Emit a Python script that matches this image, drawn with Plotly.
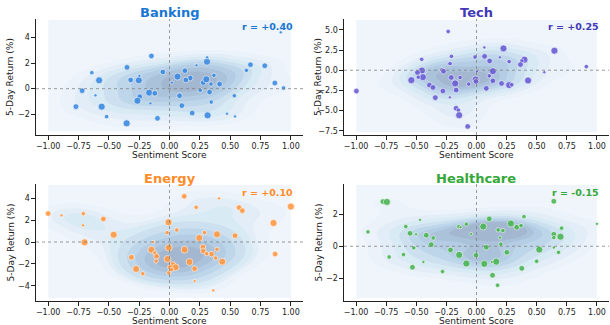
import numpy as np
import plotly.graph_objects as go

# ---------------- data ----------------
sectors = ["Banking", "Tech", "Energy", "Healthcare"]
r_labels = ["r = +0.40", "r = +0.25", "r = +0.10", "r = -0.15"]

banking_sentiment = [0.917, -0.149, 0.309, 0.31, -0.35, -0.64, -0.055, 0.223, 0.127, 0.667, 0.785, 0.634,
                     -0.58, -0.32, -0.253, -0.248, 0.066, 0.171, 0.135, 0.278, 0.303, 0.342, 0.366, 0.413,
                     0.868, 0.94, 0.02, -0.72, -0.61, -0.168, -0.121, 0.253, 0.33, -0.245, -0.264, 0.083,
                     0.534, 0.344, -0.771, -0.559, -0.157, 0.102, -0.518, -0.099, 0.187, 0.314, 0.474, 0.54, -0.353]
banking_return = [4.39, 2.55, 2.10, 2.44, 1.66, 1.25, 1.30, 1.82, 1.40, 1.87, 1.79, 1.43,
                  0.65, 0.68, 0.65, 0.99, 0.94, 0.83, 0.68, 0.47, 0.73, 0.36, 1.04, 0.36,
                  0.44, 0.05, 0.47, -0.16, -0.52, -0.31, -0.36, -0.13, -0.26, -0.62, -0.94, -0.55,
                  -0.55, -1.04, -1.40, -1.40, -1.14, -1.32, -2.18, -2.31, -1.90, -2.08, -1.95, -2.16, -2.70]
banking_volume = [1, 3, 4, 1, 3, 2, 3, 1, 3, 3, 3, 2,
                  4, 3, 4, 1, 4, 3, 3, 3, 4, 2, 2, 3,
                  3, 2, 1, 3, 1, 4, 3, 2, 3, 3, 4, 3,
                  2, 2, 3, 4, 1, 3, 2, 3, 3, 4, 1, 1, 4]

tech_sentiment = [-0.235, -0.455, -0.208, -0.232, -0.219, -0.012, 0.067, 0.065, 0.109, 0.194, 0.224, 0.271,
                  0.647, 0.398, 0.376, 0.365, 0.912, 0.563, -0.453, -0.49, -0.445, -0.483, -0.541, -0.287,
                  -0.274, -0.21, -0.136, -0.177, -0.169, -0.279, -0.391, -0.361, -0.342, -0.221, -0.065, -0.007,
                  -0.004, 0.004, 0.081, 0.106, 0.136, 0.136, 0.208, 0.271, 0.293, 0.428, -0.997, -0.169,
                  -0.15, -0.144, -0.073]
tech_return = [4.80, 1.35, 1.72, 0.78, 0.82, 1.64, 1.72, 2.83, 1.15, 1.60, 2.70, 1.07,
               2.42, 1.31, 1.15, 0.70, 0.45, -0.25, -0.04, -0.29, -0.86, -0.86, -1.23, 0.08,
               -0.12, -0.90, -0.90, -1.64, -2.46, -2.58, -1.84, -2.13, -3.40, -3.36, -1.72, -1.15,
               -1.39, -0.16, -2.25, -0.70, -0.12, -1.31, -1.64, -1.84, -1.80, -1.27, -2.58, -4.71,
               -4.96, -5.57, -6.97]
tech_volume = [2, 2, 2, 1, 2, 2, 3, 1, 3, 1, 4, 2,
               4, 4, 2, 3, 2, 1, 4, 3, 4, 2, 4, 2,
               3, 3, 2, 4, 3, 3, 3, 3, 3, 1, 2, 4,
               3, 1, 3, 2, 4, 3, 3, 4, 2, 4, 3, 3,
               2, 4, 3]

energy_sentiment = [-1.0, -0.89, -0.71, -0.713, -0.545, -0.46, -0.70, 0.121, 0.408, 0.22, 0.573, 0.60,
                    1.0, 0.857, 0.87, -0.008, -0.02, 0.06, 0.245, 0.391, 0.54, 0.289, -0.006, -0.135,
                    -0.149, -0.121, -0.107, -0.11, -0.314, -0.017, 0.124, 0.275, 0.278, 0.306, 0.347, 0.391,
                    0.38, 0.435, 0.165, 0.028, 0.05, 0.006, 0.017, -0.006, 0.207, -0.275, -0.22, 0.207, 0.361]
energy_return = [2.60, 2.44, 2.60, 1.53, 2.11, 0.67, -0.03, 4.18, 4.00, 3.18, 3.15, 2.87,
                 3.24, 1.74, -1.10, 1.80, 0.86, 1.10, 0.37, 0.70, 0.58, 0.86, -0.52, 0.00,
                 -0.70, -1.00, -1.31, -1.74, -1.40, -1.56, -0.70, -0.46, -0.82, -1.07, -1.10, -0.67,
                 -1.47, -1.80, -1.83, -2.05, -2.32, -2.32, -2.53, -2.84, -2.44, -2.47, -2.90, -3.57, -4.43]
energy_volume = [3, 1, 2, 1, 3, 4, 4, 3, 1, 2, 3, 3,
                 4, 4, 3, 4, 2, 2, 4, 4, 3, 2, 4, 1,
                 4, 2, 3, 2, 3, 4, 4, 3, 3, 2, 3, 2,
                 2, 4, 4, 3, 4, 3, 2, 2, 3, 4, 2, 1, 1]

health_sentiment = [-0.777, -0.744, 0.642, -0.901, -0.587, -0.469, -0.552, -0.502, -0.417, -0.359, -0.376, -0.521,
                    -0.606, -0.725, -0.532, -0.441, -0.282, -0.216, -0.147, -0.133, -0.084, -0.045, -0.144, -0.084,
                    -0.004, 0.056, 0.106, 0.18, 0.219, 0.285, 0.334, 0.37, 0.194, 0.202, 0.081, 0.065,
                    0.128, 0.164, 0.252, 0.133, 0.175, 0.376, 0.394, 0.521, 0.499, 0.642, 0.642, 0.697,
                    0.706, 0.642, 0.681, 1.0]
health_return = [2.79, 2.77, 2.81, 0.90, 1.23, 1.65, 0.81, 0.75, 0.69, 0.52, 0.10, -0.10,
                 -0.52, -0.67, -1.31, -0.98, -1.58, -0.23, 1.23, 1.19, 1.38, 0.77, -0.54, -1.08,
                 -0.56, 1.23, 1.71, 1.02, 0.98, 1.42, 1.19, 1.29, 0.54, 0.13, -0.06, -1.10,
                 -0.98, -0.96, -0.38, -1.81, -2.44, -1.38, 1.85, -0.21, -0.94, 0.75, 0.54, 0.60,
                 1.13, -0.08, -0.38, 1.40]
health_volume = [3, 4, 3, 2, 2, 1, 3, 1, 3, 2, 3, 2,
                 2, 2, 3, 1, 2, 3, 2, 1, 2, 1, 4, 4,
                 3, 4, 3, 2, 2, 4, 3, 2, 1, 2, 3, 4,
                 1, 4, 3, 3, 2, 3, 2, 4, 2, 3, 2, 4,
                 2, 1, 2, 1]

sentiments = [banking_sentiment, tech_sentiment, energy_sentiment, health_sentiment]
returns = [banking_return, tech_return, energy_return, health_return]
volumes = [banking_volume, tech_volume, energy_volume, health_volume]

# ---------------- styling ----------------
title_colors = ["#1976D2", "#4338B8", "#FF8C2A", "#35A83A"]
point_colors = ["#3D8BE0", "#6A5ED6", "#FF9A45", "#4CB556"]
size_map = {1: 3.2, 2: 4.4, 3: 5.6, 4: 7.0}
FONT = "DejaVu Sans"
W, H = 610, 325
density_scale = [[0.0, "#d8e7f6"], [0.125, "#cddff2"], [0.25, "#b6d2ea"], [0.375, "#9ecae1"],
                 [0.5, "#7fb2d8"], [0.625, "#5e9acb"], [0.75, "#4682bb"], [0.875, "#2f67a6"],
                 [1.0, "#1c4d8c"]]

# panel pixel boxes: (left, right, top, bottom)
boxes = [(36, 303, 19, 135), (344, 609, 19, 135), (36, 303, 184, 301), (344, 609, 184, 301)]
title_y = [12.7, 12.7, 178, 178]
yranges = [(-3.61, 5.43), (-8.03, 6.35), (-5.40, 5.31), (-3.42, 3.89)]
grid_y = [(-3.35, 5.35), (-7.70, 6.23), (-5.16, 5.22), (-3.25, 3.83)]
ytick_step = [2, 2.5, 2, 2]
ytick_fmt = ["d", ".1f", "d", "d"]


def kde_grid(xs, ys, gx, gy):
    data = np.vstack([xs, ys])
    n = data.shape[1]
    factor = n ** (-1.0 / 6.0)
    cov = np.cov(data) * factor ** 2
    inv = np.linalg.inv(cov)
    X, Y = np.meshgrid(gx, gy)
    dens = np.zeros_like(X)
    for i in range(n):
        dx = X - data[0, i]
        dy = Y - data[1, i]
        q = inv[0, 0] * dx * dx + 2 * inv[0, 1] * dx * dy + inv[1, 1] * dy * dy
        dens += np.exp(-0.5 * q)
    flat = dens.ravel()
    order = np.argsort(flat)[::-1]
    cum = np.cumsum(flat[order]) / flat.sum()
    mass_above = np.empty_like(flat)
    mass_above[order] = cum
    return (1 - mass_above).reshape(dens.shape)


fig = go.Figure()
annotations = []
shapes = []

for i, name in enumerate(sectors):
    k = "" if i == 0 else str(i + 1)
    xa, ya = "x" + k, "y" + k
    l, r, t, b = boxes[i]
    xdom = [l / W, r / W]
    ydom = [1 - b / H, 1 - t / H]

    xs = np.array(sentiments[i], dtype=float)
    ys = np.array(returns[i], dtype=float)
    gx = np.linspace(-1, 1, 140)
    gy = np.linspace(grid_y[i][0], grid_y[i][1], 140)
    z = kde_grid(xs, ys, gx, gy)

    fig.add_trace(go.Contour(
        x=gx, y=gy, z=z, xaxis=xa, yaxis=ya,
        colorscale=density_scale, zmin=0, zmax=1,
        contours=dict(start=1 / 9, end=8 / 9 + 1e-6, size=1 / 9, coloring="fill", showlines=False),
        line=dict(width=0), opacity=0.4, showscale=False, hoverinfo="skip",
    ))
    fig.add_trace(go.Scatter(
        x=xs, y=ys, xaxis=xa, yaxis=ya, mode="markers",
        marker=dict(color=point_colors[i], size=[size_map[v] for v in volumes[i]],
                    opacity=0.9, line=dict(color="white", width=0.6)),
        showlegend=False, hoverinfo="skip",
    ))

    fig.update_layout(**{
        ("xaxis" + k): dict(domain=xdom, range=[-1.1, 1.1], anchor=ya, tick0=-1, dtick=0.25,
                            tickformat=".2f", showline=True, linecolor="#222", linewidth=1.2,
                            ticks="outside", ticklen=3.5, tickwidth=1, tickcolor="#222",
                            tickfont=dict(size=8, color="#222", family=FONT),
                            showgrid=False, zeroline=False, automargin=False),
        ("yaxis" + k): dict(domain=ydom, range=list(yranges[i]), anchor=xa, tick0=0,
                            dtick=ytick_step[i], tickformat=ytick_fmt[i],
                            showline=True, linecolor="#222", linewidth=1.2,
                            ticks="outside", ticklen=3.5, tickwidth=1, tickcolor="#222",
                            tickfont=dict(size=8, color="#222", family=FONT),
                            showgrid=False, zeroline=False, automargin=False),
    })

    shapes.append(dict(type="line", xref=xa, yref=ya + " domain", x0=0, x1=0, y0=0, y1=1,
                       line=dict(color="rgba(130,130,130,0.8)", width=1, dash="dot")))
    shapes.append(dict(type="line", xref=xa + " domain", yref=ya, x0=0, x1=1, y0=0, y1=0,
                       line=dict(color="rgba(130,130,130,0.8)", width=1, dash="dot")))

    cx = (l + r) / 2 / W
    annotations.append(dict(text="<b>" + name + "</b>", x=cx, y=1 - title_y[i] / H, xref="paper", yref="paper",
                            showarrow=False, xanchor="center", yanchor="middle",
                            font=dict(size=13, color=title_colors[i], family=FONT)))
    annotations.append(dict(text="<b>" + r_labels[i] + "</b>", x=(r - 8) / W, y=1 - (title_y[i] + 14) / H,
                            xref="paper", yref="paper", showarrow=False, xanchor="right", yanchor="middle",
                            font=dict(size=9.5, color=title_colors[i], family=FONT)))
    annotations.append(dict(text="Sentiment Score", x=cx, y=1 - (b + 20) / H, xref="paper", yref="paper",
                            showarrow=False, xanchor="center", yanchor="middle",
                            font=dict(size=9, color="#222", family=FONT)))
    annotations.append(dict(text="5-Day Return (%)", x=(l - 26) / W, y=1 - ((t + b) / 2) / H,
                            xref="paper", yref="paper", showarrow=False, textangle=-90,
                            xanchor="center", yanchor="middle",
                            font=dict(size=9, color="#222", family=FONT)))

fig.update_layout(
    width=W, height=H, margin=dict(l=0, r=0, t=0, b=0),
    paper_bgcolor="white", plot_bgcolor="white",
    showlegend=False, annotations=annotations, shapes=shapes,
    font=dict(family=FONT, color="#222"),
)

fig.write_html("out.html", config={"displayModeBar": False},
               post_script="document.body.style.margin='0';document.body.style.padding='0';")
